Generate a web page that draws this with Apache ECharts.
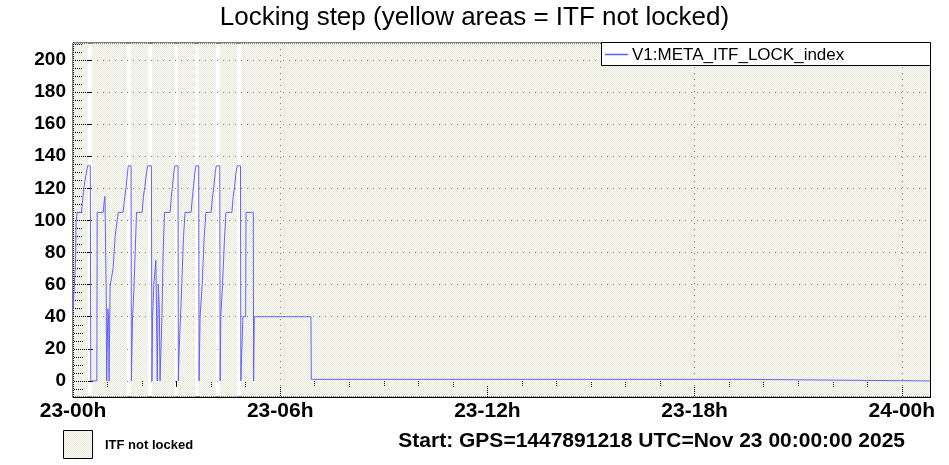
<!DOCTYPE html>
<html><head><meta charset="utf-8">
<script src="https://cdn.jsdelivr.net/npm/echarts@6/dist/echarts.min.js"></script>
<style>html,body{margin:0;padding:0;background:#fff}#c{width:949px;height:465px}</style>
</head><body><div id="c"></div>
<script>
// ---- data (time in hours since 23-00h) ----
const lockTimes = [0.000,0.005,0.055,0.075,0.090,0.125,0.246,0.270,0.290,0.310,0.340,0.390,0.420,0.500,0.515,
  0.690,0.700,0.875,0.900,0.925,0.950,0.960,0.975,1.000,1.010,1.030,1.045,1.065,1.075,1.115,1.160,1.220,1.280,1.310,1.450,1.500,1.540,1.580,1.600,1.680,1.690,
  1.715,1.725,1.760,1.800,1.840,2.000,2.040,2.080,2.130,2.160,2.270,2.285,
  2.300,2.305,2.340,2.400,2.420,2.440,2.460,2.470,2.500,2.520,2.560,2.575,2.610,2.650,2.810,2.850,2.880,2.920,2.950,3.040,3.050,
  3.065,3.075,3.150,3.200,3.245,3.420,3.460,3.490,3.530,3.560,3.640,3.650,
  3.665,3.680,3.740,3.800,3.850,4.000,4.040,4.080,4.120,4.150,4.250,4.260,
  4.270,4.280,4.330,4.390,4.430,4.600,4.640,4.680,4.720,4.760,4.850,4.860,
  4.900,4.920,5.000,5.010,5.220,5.230,5.250,6.890,6.900,19.400,19.410,24.830];
const lockIndex = [55,45,46,75,100,105,105,111,115,119,124,130,134,134,0,
  0,105,105,111,115,115,59,0,0,45,40,0,0,59,59,70,90,100,105,105,115,121,130,134,134,0,
  0,40,55,80,105,105,115,121,130,134,134,0,
  0,40,60,75,40,0,0,60,45,0,0,40,80,105,105,115,121,130,134,134,0,
  0,20,60,90,105,105,115,121,130,134,134,0,
  0,40,60,90,105,105,115,121,130,134,134,0,
  0,40,60,90,105,105,115,121,130,134,134,0,
  0,40,40,105,105,0,40,40,1,1,0,0];
// ITF not locked intervals (hours)
const notLockedStart = [0.000,0.541,1.685,2.292,3.054,3.653,4.260,4.860];
const notLockedEnd   = [0.425,1.569,2.177,2.958,3.537,4.145,4.753,24.830];
const xTickHours  = [0,6,12,18,24];
const xTickLabels = ['23-00h','23-06h','23-12h','23-18h','24-00h'];
const xMinorHours = [1,2,3,4,5,7,8,9,10,11,13,14,15,16,17,19,20,21,22,23];
const yTickValues = [0,20,40,60,80,100,120,140,160,180,200];
const yMinorValues = [-5,5,10,15,25,30,35,45,50,55,65,70,75,85,90,95,105,110,115,125,130,135,145,150,155,165,170,175,185,190,195,205,210];
const X_MIN = 0, X_MAX = 24.83, Y_MIN = -10, Y_MAX = 210.5;
const seriesName = 'V1:META_ITF_LOCK_index';
const LINE_COLOR = '#6262ff';

// checker pattern
const pc = document.createElement('canvas'); pc.width = 2; pc.height = 2;
const pg = pc.getContext('2d'); pg.fillStyle = '#e6e6d4';
pg.fillRect(0,0,1,1); pg.fillRect(1,1,1,1);
const pattern = {image: pc, repeat: 'repeat'};

const chart = echarts.init(document.getElementById('c'), null, {renderer:'canvas'});
const FONT = 'Liberation Sans, Arial, Helvetica, sans-serif';
const axisBase = {type:'value', min:X_MIN, max:X_MAX, gridIndex:0};
chart.setOption({
  animation:false,
  backgroundColor:'#ffffff',
  title:{text:'Locking step (yellow areas = ITF not locked)', left:'center', top:0,
    textStyle:{fontFamily:FONT, fontSize:26, fontWeight:'normal', color:'#000'}},
  grid:{left:73, top:43, right:18.5, bottom:68, show:true, borderColor:'#000', borderWidth:1, backgroundColor:'transparent'},
  xAxis:[
    Object.assign({}, axisBase, {
      axisLine:{show:true, onZero:false, lineStyle:{color:'#000', width:1}},
      axisTick:{show:true, inside:true, length:11, customValues:xTickHours, lineStyle:{color:'#000'}},
      axisLabel:{show:true, customValues:xTickHours, margin:4, fontFamily:FONT, fontSize:21, fontWeight:'bold', color:'#000',
        formatter:function(v){const i = xTickHours.indexOf(Math.round(v)); return i>=0 ? xTickLabels[i] : '';}},
      splitLine:{show:true, lineStyle:{color:'#888', width:1, type:[1,5]}}
    }),
    Object.assign({}, axisBase, {
      axisLine:{show:false}, axisLabel:{show:false}, splitLine:{show:false},
      axisTick:{show:true, inside:true, length:6, customValues:xMinorHours, lineStyle:{color:'#000'}}
    })
  ],
  yAxis:[
    {type:'value', min:Y_MIN, max:Y_MAX, position:'left',
      axisLine:{show:true, onZero:false, lineStyle:{color:'#000', width:1}},
      axisTick:{show:true, inside:true, length:20, customValues:yTickValues, lineStyle:{color:'#000'}},
      axisLabel:{show:true, customValues:yTickValues, margin:7, fontFamily:FONT, fontSize:19, fontWeight:'bold', color:'#000'},
      splitLine:{show:true, lineStyle:{color:'#888', width:1, type:[1,5]}}
    },
    {type:'value', min:Y_MIN, max:Y_MAX, position:'left', offset:0,
      axisLine:{show:false}, axisLabel:{show:false}, splitLine:{show:false},
      axisTick:{show:true, inside:true, length:10, customValues:yMinorValues, lineStyle:{color:'#000'}}
    }
  ],
  series:[
    {name:'notlocked', type:'custom', xAxisIndex:0, yAxisIndex:0, z:2, silent:true,
      data: notLockedStart.map((s,i)=>[s, notLockedEnd[i]]),
      encode:{x:[0,1]},
      renderItem:function(params, api){
        const p0 = api.coord([api.value(0), Y_MAX]);
        const p1 = api.coord([api.value(1), Y_MIN]);
        const x0 = Math.round(p0[0]), x1 = Math.round(p1[0]);
        const y0 = Math.round(p0[1]), y1 = Math.round(p1[1]);
        return {type:'rect', shape:{x:x0, y:y0, width:x1-x0, height:y1-y0}, style:{fill:pattern}};
      }
    },
    {name:seriesName, type:'line', xAxisIndex:0, yAxisIndex:0, z:4,
      data: lockTimes.map((t,i)=>[t, lockIndex[i]]),
      symbol:'none', showSymbol:false, smooth:false,
      lineStyle:{color:LINE_COLOR, width:1}, itemStyle:{color:LINE_COLOR}}
  ],
  graphic:[
    {type:'rect', z:100, shape:{x:601.5, y:42.5, width:329, height:23}, style:{fill:'#fff', stroke:'#000', lineWidth:1}},
    {type:'line', z:101, shape:{x1:605, y1:54.5, x2:628, y2:54.5}, style:{stroke:LINE_COLOR, lineWidth:1.5}},
    {type:'text', z:101, x:632, y:55, style:{text:seriesName, font:'17px '+FONT, fill:'#000', verticalAlign:'middle'}},
    {type:'rect', z:100, shape:{x:63.5, y:430.5, width:29, height:28}, style:{fill:pattern, stroke:'#000', lineWidth:1}},
    {type:'text', z:100, x:105, y:445, style:{text:'ITF not locked', font:'bold 13px '+FONT, fill:'#000', verticalAlign:'middle'}},
    {type:'text', z:100, x:905, y:441, style:{text:'Start: GPS=1447891218 UTC=Nov 23 00:00:00 2025', font:'bold 21px '+FONT, fill:'#000', align:'right', verticalAlign:'middle'}}
  ]
});
</script></body></html>
